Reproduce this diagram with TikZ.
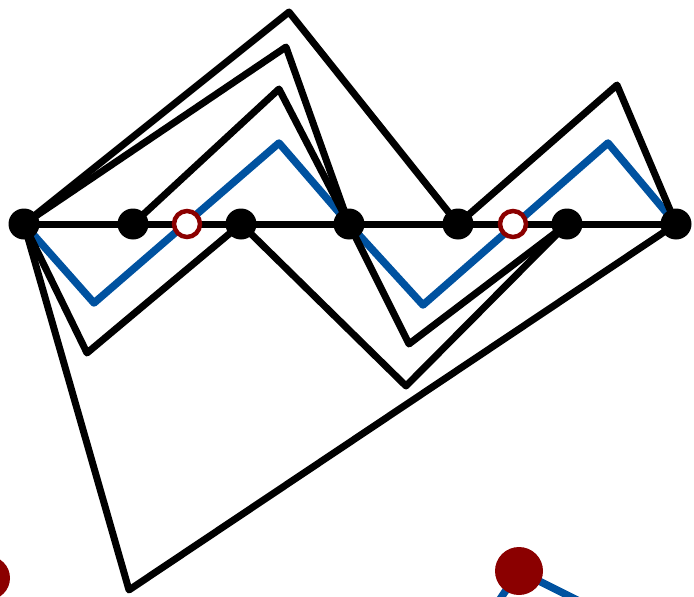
\documentclass[tikz,border=0pt]{standalone}
\definecolor{myblue}{RGB}{0,82,160}
\definecolor{myred}{RGB}{139,0,0}
\begin{document}
\begin{tikzpicture}[x=1pt,y=-1pt,
  edge/.style={line width=7pt, line join=round},
  blueedge/.style={line width=7.5pt, draw=myblue, line join=round},
  dot/.style={circle, fill=black, inner sep=0pt, minimum size=31pt},
  hollow/.style={circle, draw=myred, line width=4.5pt, fill=white, inner sep=0pt, minimum size=26pt},
  reddot/.style={circle, fill=myred, inner sep=0pt, minimum size=48pt}]
\useasboundingbox (0,0) rectangle (694,597);
\clip (0,0) rectangle (694,597);
% axis vertices
\coordinate (v0) at (24,224);
\coordinate (v1) at (133,224);
\coordinate (v2) at (241,224);
\coordinate (v3) at (349,224);
\coordinate (v4) at (458,224);
\coordinate (v5) at (567,224);
\coordinate (v6) at (676,224);
\coordinate (h1) at (187,224);
\coordinate (h2) at (513,224);
% turning points
\coordinate (p1) at (289,12);
\coordinate (p2) at (617,85);
\coordinate (p3) at (286,47);
\coordinate (p4) at (279,89);
\coordinate (q1) at (87,353);
\coordinate (q2) at (406,386);
\coordinate (q3) at (409,344);
\coordinate (q4) at (129,590);
\coordinate (b1) at (94,303);
\coordinate (b2) at (279,143);
\coordinate (b3) at (423,305);
\coordinate (b4) at (608,143);
% bottom partial items
\coordinate (r1) at (519,571);
\coordinate (r2) at (-12,578);
\coordinate (e1) at (494,608);
\coordinate (e2) at (581,602);
% blue path
\draw[blueedge] (v0) -- (b1) -- (b2) -- (v3) -- (b3) -- (b4) -- (v6);
\draw[blueedge] (e1) -- (r1) -- (e2);
% black paths
\draw[edge] (v0) -- (v6);
\draw[edge] (v0) -- (p1) -- (v4) -- (p2) -- (v6);
\draw[edge] (v0) -- (p3) -- (v3);
\draw[edge] (v1) -- (p4) -- (v3);
\draw[edge] (v0) -- (q1) -- (v2);
\draw[edge] (v2) -- (q2) -- (v5);
\draw[edge] (v3) -- (q3) -- (v5);
\draw[edge] (v0) -- (q4) -- (v6);
% nodes
\foreach \i in {0,...,6} { \node[dot] (n\i) at (v\i) {}; }
\node[hollow] (o1) at (h1) {};
\node[hollow] (o2) at (h2) {};
\node[reddot] (d1) at (r1) {};
\node[reddot, minimum size=44pt] (d2) at (r2) {};
\end{tikzpicture}
\end{document}
